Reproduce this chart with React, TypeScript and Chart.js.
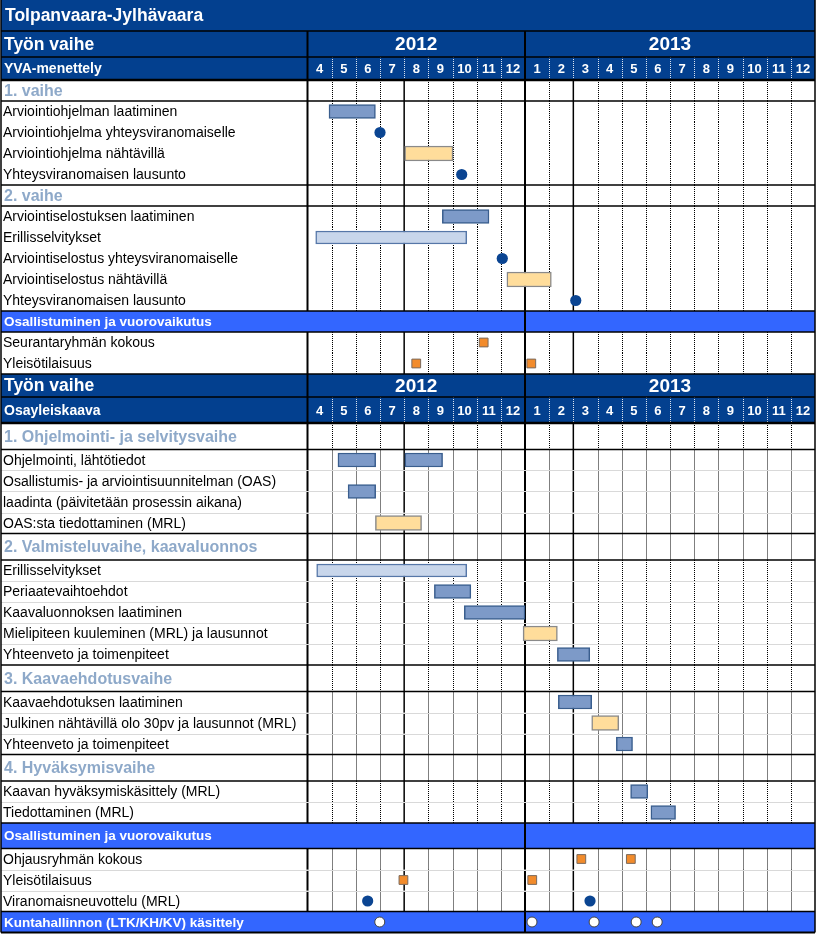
import { useEffect, useRef } from "react";
import { Chart, registerables } from "chart.js";

Chart.register(...registerables);

// ---------------- data ----------------
// x values are months counted from January 2012 (3 = start of April 2012, 12 = start of January 2013)
const TITLE = "Tolpanvaara-Jylhävaara";
const YEARS = ["2012", "2013"];
const YEAR_BOUNDS = [3, 12, 24];
const MONTH_TICKS = ["4", "5", "6", "7", "8", "9", "10", "11", "12", "1", "2", "3", "4", "5", "6", "7", "8", "9", "10", "11", "12"];
const X_MIN = 3;
const X_MAX = 24;
const SOLID_MONTH_LINES = [7, 12, 14];

type Kind = "title" | "head" | "months" | "phase" | "task" | "task2" | "band" | "marks";

const ROWS: [Kind, string][] = [
  ["title", TITLE], // 0
  ["head", "Työn vaihe"], // 1
  ["months", "YVA-menettely"], // 2
  ["phase", "1. vaihe"], // 3
  ["task", "Arviointiohjelman laatiminen"], // 4
  ["task", "Arviointiohjelma yhteysviranomaiselle"], // 5
  ["task", "Arviointiohjelma nähtävillä"], // 6
  ["task", "Yhteysviranomaisen lausunto"], // 7
  ["phase", "2. vaihe"], // 8
  ["task", "Arviointiselostuksen laatiminen"], // 9
  ["task", "Erillisselvitykset"], // 10
  ["task", "Arviointiselostus yhteysviranomaiselle"], // 11
  ["task", "Arviointiselostus nähtävillä"], // 12
  ["task", "Yhteysviranomaisen lausunto"], // 13
  ["band", "Osallistuminen ja vuorovaikutus"], // 14
  ["task", "Seurantaryhmän kokous"], // 15
  ["task", "Yleisötilaisuus"], // 16
  ["head", "Työn vaihe"], // 17
  ["months", "Osayleiskaava"], // 18
  ["phase", "1. Ohjelmointi- ja selvitysvaihe"], // 19
  ["task", "Ohjelmointi, lähtötiedot"], // 20
  ["task2", "Osallistumis- ja arviointisuunnitelman (OAS)\nlaadinta (päivitetään prosessin aikana)"], // 21
  ["task", "OAS:sta tiedottaminen (MRL)"], // 22
  ["phase", "2. Valmisteluvaihe, kaavaluonnos"], // 23
  ["task", "Erillisselvitykset"], // 24
  ["task", "Periaatevaihtoehdot"], // 25
  ["task", "Kaavaluonnoksen laatiminen"], // 26
  ["task", "Mielipiteen kuuleminen (MRL) ja lausunnot"], // 27
  ["task", "Yhteenveto ja toimenpiteet"], // 28
  ["phase", "3. Kaavaehdotusvaihe"], // 29
  ["task", "Kaavaehdotuksen laatiminen"], // 30
  ["task", "Julkinen nähtävillä olo 30pv ja lausunnot (MRL)"], // 31
  ["task", "Yhteenveto ja toimenpiteet"], // 32
  ["phase", "4. Hyväksymisvaihe"], // 33
  ["task", "Kaavan hyväksymiskäsittely (MRL)"], // 34
  ["task", "Tiedottaminen (MRL)"], // 35
  ["band", "Osallistuminen ja vuorovaikutus"], // 36
  ["task", "Ohjausryhmän kokous"], // 37
  ["task", "Yleisötilaisuus"], // 38
  ["task", "Viranomaisneuvottelu (MRL)"], // 39
  ["marks", "Kuntahallinnon (LTK/KH/KV) käsittely"], // 40
];

// [row, start, end]
const WORK_BARS: [number, number, number][] = [
  [4, 3.89, 5.81],
  [9, 8.58, 10.51],
  [20, 4.26, 5.82],
  [20, 7.03, 8.59],
  [21, 4.68, 5.82],
  [25, 8.25, 9.76],
  [26, 9.49, 12.0],
  [28, 13.34, 14.68],
  [30, 13.38, 14.76],
  [32, 15.78, 16.45],
  [34, 16.37, 17.08],
  [35, 17.21, 18.23],
];
const STUDY_BARS: [number, number, number][] = [
  [10, 3.34, 9.59],
  [24, 3.38, 9.59],
];
const DISPLAY_BARS: [number, number, number][] = [
  [6, 7.02, 9.02],
  [12, 11.25, 13.09],
  [22, 5.81, 7.72],
  [27, 11.92, 13.34],
  [31, 14.76, 15.88],
];
// [row, month]
const DECISIONS: [number, number][] = [
  [5, 6.0],
  [7, 9.38],
  [11, 11.06],
  [13, 14.1],
  [39, 5.49],
  [39, 14.69],
];
const MEETINGS: [number, number][] = [
  [15, 10.29],
  [16, 7.5],
  [16, 12.26],
  [37, 14.33],
  [37, 16.38],
  [38, 6.97],
  [38, 12.3],
];
const COUNCIL: [number, number][] = [
  [40, 5.99],
  [40, 12.29],
  [40, 14.86],
  [40, 16.6],
  [40, 17.47],
];

// ---------------- style / layout ----------------
const ROW_HEIGHTS: Record<Kind, number>[] = [
  { title: 31, head: 26, months: 23, phase: 21, task: 21, task2: 42, band: 21, marks: 21 },
  { title: 31, head: 23, months: 26, phase: 26.5, task: 21, task2: 42, band: 25.5, marks: 21 },
];
const C = {
  dark: "#03408F",
  band: "#3366FF",
  phase: "#8EA9C9",
  work: "#7D9AC8",
  workBorder: "#3A5E8E",
  study: "#C8D6EB",
  studyBorder: "#5677A8",
  display: "#FFDD9B",
  displayBorder: "#8A8A8A",
  decision: "#0B4592",
  meeting: "#F28B2B",
  meetingBorder: "#7A6A5E",
  gray: "#D9D9D9",
};
const FONT = '"Liberation Sans", Arial, sans-serif';
const CANVAS_W = 817;
const CANVAS_H = 935;

interface RowBox {
  kind: Kind;
  label: string;
  top: number;
  bottom: number;
  mid: number;
  block: number;
}

const ROW_BOXES: RowBox[] = (() => {
  let y = 0;
  let block = -1;
  return ROWS.map(([kind, label]) => {
    if (kind === "head") block += 1;
    const b = Math.max(block, 0);
    const h = ROW_HEIGHTS[b][kind];
    const box = { kind, label, top: y, bottom: y + h, mid: y + h / 2, block: b };
    y += h;
    return box;
  });
})();
const TABLE_BOTTOM = ROW_BOXES[ROW_BOXES.length - 1].bottom;

const isData = (k: Kind) => k === "phase" || k === "task" || k === "task2";
const isTask = (k: Kind) => k === "task" || k === "task2";

const barData = (list: [number, number, number][]) =>
  list.map(([r, s, e]) => ({ x: [s, e], y: ROW_BOXES[r].mid }));
const pointData = (list: [number, number][]) =>
  list.map(([r, m]) => ({ x: m, y: ROW_BOXES[r].mid }));

const tablePlugin = {
  id: "ganttTable",
  beforeDatasetsDraw(chart: any) {
    const ctx: CanvasRenderingContext2D = chart.ctx;
    const xs = chart.scales.x;
    const ys = chart.scales.y;
    const X = (v: number) => xs.getPixelForValue(v);
    const Y = (v: number) => ys.getPixelForValue(v);
    const L = 1;
    const G = X(X_MIN);
    const R = X(X_MAX);
    ctx.save();

    const vline = (x: number, y0: number, y1: number, color: string, width: number, dash: number[]) => {
      ctx.beginPath();
      ctx.setLineDash(dash);
      ctx.strokeStyle = color;
      ctx.lineWidth = width;
      const cx = width === 1 ? Math.round(x) + 0.5 : x;
      ctx.moveTo(cx, y0);
      ctx.lineTo(cx, y1);
      ctx.stroke();
    };
    const hline = (y: number, x0: number, x1: number, color: string, width: number) => {
      ctx.beginPath();
      ctx.setLineDash([]);
      ctx.strokeStyle = color;
      ctx.lineWidth = width;
      const cy = width === 1 ? Math.round(y) + 0.5 : y;
      ctx.moveTo(x0, cy);
      ctx.lineTo(x1, cy);
      ctx.stroke();
    };

    // backgrounds + verticals
    for (const r of ROW_BOXES) {
      const t = Y(r.top);
      const b = Y(r.bottom);
      const dark = r.kind === "title" || r.kind === "head" || r.kind === "months";
      const band = r.kind === "band" || r.kind === "marks";
      ctx.fillStyle = dark ? C.dark : band ? C.band : "#FFFFFF";
      ctx.fillRect(L, t, R - L, b - t);
      for (let m = X_MIN + 1; m < X_MAX; m++) {
        const x = X(m);
        const yearLine = YEAR_BOUNDS.includes(m);
        if (isData(r.kind)) {
          if (SOLID_MONTH_LINES.includes(m)) vline(x, t, b, "#000", yearLine ? 2 : 1.5, []);
          else vline(x, t, b, "#000", 1, [1, 1]);
        } else if (r.kind === "months") {
          if (yearLine) vline(x, t, b, "#000", 2, []);
          else vline(x, t, b, "rgba(255,255,255,0.85)", 1, [1, 1]);
        } else if ((r.kind === "head" || band) && yearLine) {
          vline(x, t, b, "#000", 2, []);
        }
      }
      if (isData(r.kind) || r.kind === "head" || r.kind === "months") vline(G, t, b, "#000", 2, []);
    }

    // horizontals
    for (let i = 1; i < ROW_BOXES.length; i++) {
      const a = ROW_BOXES[i - 1];
      const c = ROW_BOXES[i];
      const y = Y(c.top);
      if (isTask(a.kind) && isTask(c.kind)) {
        if (c.block === 1) hline(y, L, R, C.gray, 1);
      } else {
        hline(y, L, R, "#000", a.kind === "months" ? 2.5 : 1.6);
      }
    }
    for (const r of ROW_BOXES) {
      if (r.kind === "task2" && r.block === 1) hline(Y(r.mid), L, R, C.gray, 1);
    }
    hline(Y(TABLE_BOTTOM), L, R, "#000", 2);
    vline(L, 0, Y(TABLE_BOTTOM), "#000", 1.5, []);
    vline(R, 0, Y(TABLE_BOTTOM), "#000", 1.5, []);

    // texts
    ctx.textBaseline = "middle";
    for (const r of ROW_BOXES) {
      const my = Y(r.mid) + 1;
      ctx.textAlign = "left";
      switch (r.kind) {
        case "title":
          ctx.font = `bold 17.5px ${FONT}`;
          ctx.fillStyle = "#FFFFFF";
          ctx.fillText(r.label, 5, my);
          break;
        case "head":
          ctx.font = `bold 17.5px ${FONT}`;
          ctx.fillStyle = "#FFFFFF";
          ctx.fillText(r.label, 4, my);
          ctx.font = `bold 19px ${FONT}`;
          ctx.textAlign = "center";
          YEARS.forEach((yr, i) => {
            ctx.fillText(yr, (X(YEAR_BOUNDS[i]) + X(YEAR_BOUNDS[i + 1])) / 2, my);
          });
          break;
        case "months":
          ctx.font = `bold 14px ${FONT}`;
          ctx.fillStyle = "#FFFFFF";
          ctx.fillText(r.label, 4, my);
          ctx.font = `bold 13px ${FONT}`;
          ctx.textAlign = "center";
          MONTH_TICKS.forEach((t, j) => ctx.fillText(t, X(X_MIN + j + 0.5), my));
          break;
        case "phase":
          ctx.font = `bold 16px ${FONT}`;
          ctx.fillStyle = C.phase;
          ctx.fillText(r.label, 4, my);
          break;
        case "task":
          ctx.font = `14px ${FONT}`;
          ctx.fillStyle = "#000000";
          ctx.fillText(r.label, 3, my);
          break;
        case "task2": {
          ctx.font = `14px ${FONT}`;
          ctx.fillStyle = "#000000";
          const lines = r.label.split("\n");
          const h = r.bottom - r.top;
          lines.forEach((ln, k) => {
            ctx.fillText(ln, 3, Y(r.top + (h / lines.length) * (k + 0.5)) + 1);
          });
          break;
        }
        case "band":
        case "marks":
          ctx.font = `bold 13.5px ${FONT}`;
          ctx.fillStyle = "#FFFFFF";
          ctx.fillText(r.label, 4, my);
          break;
      }
    }
    ctx.restore();
  },
};

export default function App() {
  const ref = useRef<HTMLCanvasElement | null>(null);
  useEffect(() => {
    const canvas = ref.current;
    if (!canvas) return;
    const chart = new Chart(canvas, {
      type: "bar",
      data: {
        datasets: [
          {
            type: "bar",
            label: "Työvaihe",
            data: barData(WORK_BARS) as any,
            backgroundColor: C.work,
            borderColor: C.workBorder,
            borderWidth: 1.5,
            borderSkipped: false,
            barThickness: 14,
            grouped: false,
            indexAxis: "y",
          },
          {
            type: "bar",
            label: "Selvitykset",
            data: barData(STUDY_BARS) as any,
            backgroundColor: C.study,
            borderColor: C.studyBorder,
            borderWidth: 1.5,
            borderSkipped: false,
            barThickness: 13,
            grouped: false,
            indexAxis: "y",
          },
          {
            type: "bar",
            label: "Nähtävillä",
            data: barData(DISPLAY_BARS) as any,
            backgroundColor: C.display,
            borderColor: C.displayBorder,
            borderWidth: 1.5,
            borderSkipped: false,
            barThickness: 15,
            grouped: false,
            indexAxis: "y",
          },
          {
            type: "scatter",
            label: "Lausunto / neuvottelu",
            data: pointData(DECISIONS) as any,
            pointStyle: "circle",
            pointRadius: 5.6,
            pointBackgroundColor: C.decision,
            pointBorderColor: C.decision,
            pointBorderWidth: 0,
          },
          {
            type: "scatter",
            label: "Kokous",
            data: pointData(MEETINGS) as any,
            pointStyle: "rect",
            pointRadius: 6.2,
            pointBackgroundColor: C.meeting,
            pointBorderColor: C.meetingBorder,
            pointBorderWidth: 1,
          },
          {
            type: "scatter",
            label: "Käsittely",
            data: pointData(COUNCIL) as any,
            pointStyle: "circle",
            pointRadius: 5,
            pointBackgroundColor: "#FFFFFF",
            pointBorderColor: "#444444",
            pointBorderWidth: 1,
          },
        ],
      } as any,
      options: {
        indexAxis: "y",
        animation: false,
        responsive: false,
        events: [],
        layout: { autoPadding: false, padding: { left: 307.5, right: 2, top: 0, bottom: 0 } },
        scales: {
          x: { type: "linear", min: X_MIN, max: X_MAX, display: false, offset: false, stacked: false, beginAtZero: false },
          y: { type: "linear", min: 0, max: CANVAS_H, reverse: true, display: false, offset: false, stacked: false, beginAtZero: false },
        },
        plugins: { legend: { display: false }, tooltip: { enabled: false }, title: { display: false } },
      } as any,
      plugins: [tablePlugin as any],
    });
    return () => chart.destroy();
  }, []);

  return (
    <div style={{ width: CANVAS_W, height: CANVAS_H }}>
      <style>{"body{margin:0}"}</style>
      <canvas ref={ref} width={CANVAS_W} height={CANVAS_H} style={{ display: "block", width: CANVAS_W, height: CANVAS_H }} />
    </div>
  );
}
